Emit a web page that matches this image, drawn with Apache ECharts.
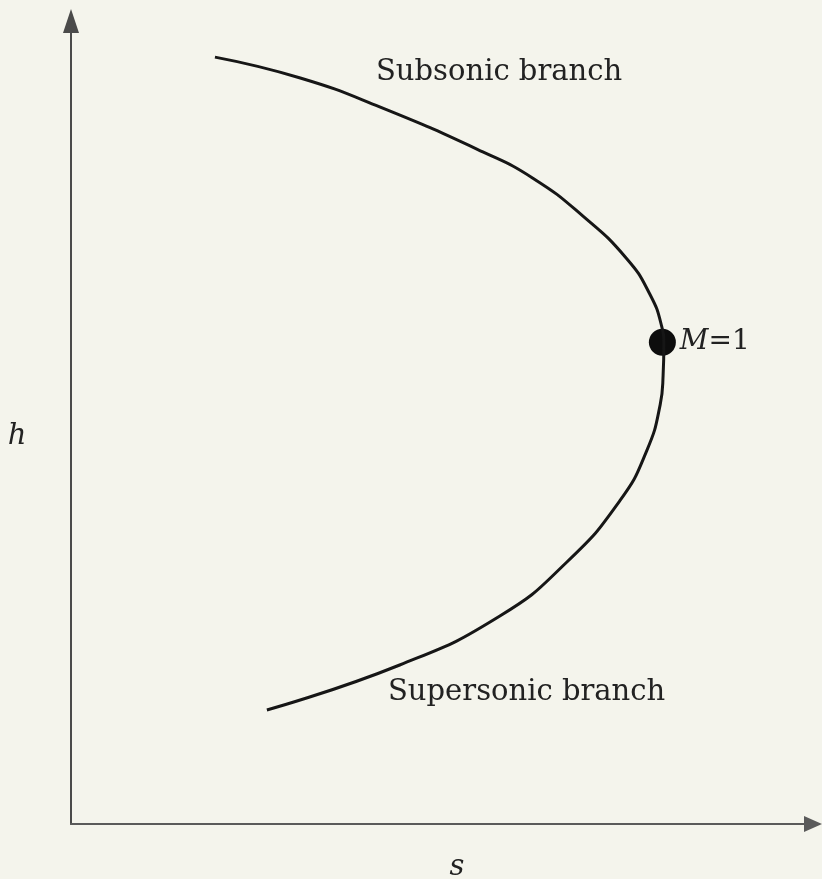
<!DOCTYPE html>
<html>
<head>
<meta charset="utf-8">
<title>Fanno line</title>
<script src="https://cdn.jsdelivr.net/npm/echarts@6/dist/echarts.min.js"></script>
<style>
  html, body { margin: 0; padding: 0; background: #f4f4ec; }
  #chart { width: 822px; height: 879px; }
</style>
</head>
<body>
<div id="chart"></div>
<script>
// curve, s along the bottom, h up the side (arbitrary units 0..10)
const curveS = [1.94, 3.09, 4.16, 5.55, 6.23, 6.90, 7.49, 7.80, 7.96, 7.99, 7.98, 7.94, 7.76, 7.40, 6.68, 5.78, 4.43, 2.64]
const curveH = [9.55, 9.29, 8.93, 8.37, 8.04, 7.57, 7.04, 6.60, 6.20, 5.97, 5.59, 5.22, 4.65, 4.03, 3.26, 2.59, 1.98, 1.42]
// sonic point
const sonicPoint = [7.97, 6.0]
const labels = ['Subsonic branch', 'Supersonic branch']
const axisNames = ['s', 'h']

const chart = echarts.init(document.getElementById('chart'))

const serif = 'DejaVu Serif'
const ink = '#222222'

const option = {
    backgroundColor: '#f4f4ec',
    animation: false,
    grid: {
        left: 71,
        right: 9,
        top: 21,
        bottom: 55
    },
    xAxis: {
        type: 'value',
        min: 0,
        max: 10,
        axisLine: {
            symbol: ['none', 'triangle'],
            symbolSize: [16, 18],
            lineStyle: { color: '#5a5a5a', width: 2 }
        },
        axisTick: { show: false },
        axisLabel: { show: false },
        splitLine: { show: false }
    },
    yAxis: {
        type: 'value',
        min: 0,
        max: 10,
        axisLine: {
            symbol: ['none', 'triangle'],
            symbolSize: [16, 24],
            lineStyle: { color: '#4a4a4a', width: 2 }
        },
        axisTick: { show: false },
        axisLabel: { show: false },
        splitLine: { show: false }
    },
    series: [
        {
            type: 'line',
            smooth: 0.5,
            showSymbol: false,
            lineStyle: { color: '#161616', width: 3 },
            data: curveS.map((s, i) => [s, curveH[i]])
        },
        {
            type: 'scatter',
            symbolSize: 27,
            itemStyle: { color: '#0d0d0d', opacity: 1 },
            label: {
                show: true,
                position: 'right',
                distance: 4,
                formatter: '{i|M}=1',
                fontFamily: serif,
                fontSize: 28,
                color: ink,
                rich: {
                    i: { fontFamily: serif, fontStyle: 'italic', fontSize: 28, color: ink }
                }
            },
            data: [sonicPoint]
        }
    ],
    graphic: [
        {
            type: 'text',
            left: 376,
            top: 58,
            style: { text: labels[0], font: '29px "DejaVu Serif"', fill: ink }
        },
        {
            type: 'text',
            left: 388,
            top: 678,
            style: { text: labels[1], font: '29px "DejaVu Serif"', fill: ink }
        },
        {
            type: 'text',
            x: 457,
            y: 867,
            style: { text: axisNames[0], font: 'italic 29px "DejaVu Serif"', fill: ink, align: 'center', verticalAlign: 'middle' }
        },
        {
            type: 'text',
            x: 17,
            y: 436,
            style: { text: axisNames[1], font: 'italic 29px "DejaVu Serif"', fill: ink, align: 'center', verticalAlign: 'middle' }
        }
    ]
}

chart.setOption(option)
</script>
</body>
</html>
